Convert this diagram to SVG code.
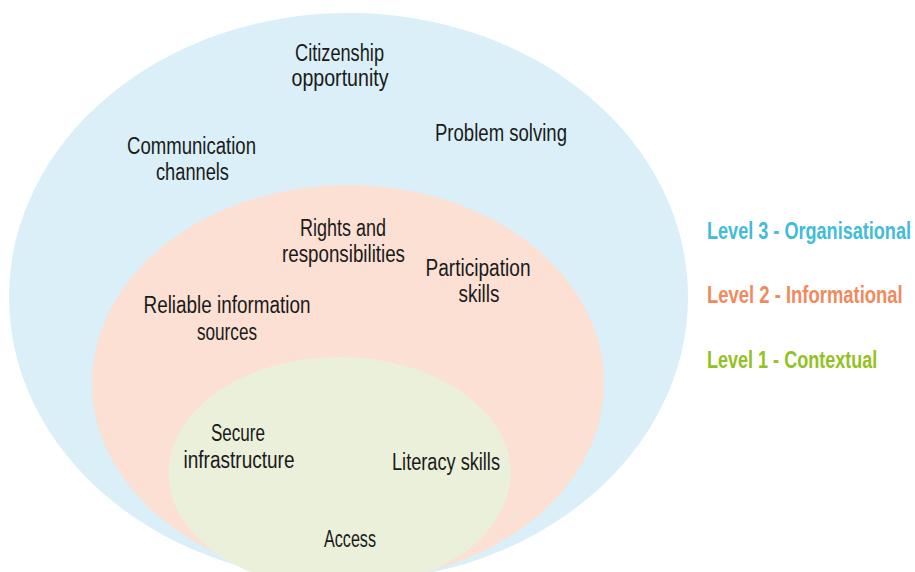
<svg xmlns="http://www.w3.org/2000/svg" width="915" height="572" viewBox="0 0 915 572">
<style>
.lbl{font-family:"Liberation Sans",Arial,sans-serif;font-size:23px;fill:#1a1a1a;text-anchor:middle}
.leg{font-family:"Liberation Sans",Arial,sans-serif;font-size:23px;font-weight:bold}
</style>
<rect width="915" height="572" fill="#ffffff"/>
<g id="level3">
<ellipse cx="348.5" cy="297" rx="339.5" ry="284" fill="#daeff7"/>
</g>
<g id="level2">
<ellipse cx="348" cy="383" rx="256" ry="198" fill="#fce0d3"/>
</g>
<g id="level1">
<ellipse cx="339.5" cy="473" rx="171" ry="116" fill="#ebf0db"/>
</g>
<g id="connectors"/>
<g id="labels-level3">
<g id="citizenship"><text class="lbl" x="339.5" y="61" textLength="89" lengthAdjust="spacingAndGlyphs">Citizenship</text><text class="lbl" x="340" y="86" textLength="97" lengthAdjust="spacingAndGlyphs">opportunity</text></g>
<g id="communication"><text class="lbl" x="191.5" y="154" textLength="129" lengthAdjust="spacingAndGlyphs">Communication</text><text class="lbl" x="192.5" y="180" textLength="73" lengthAdjust="spacingAndGlyphs">channels</text></g>
<g id="problem"><text class="lbl" x="501" y="141" textLength="132" lengthAdjust="spacingAndGlyphs">Problem solving</text></g>
</g>
<g id="labels-level2">
<g id="rights"><text class="lbl" x="343" y="236" textLength="86" lengthAdjust="spacingAndGlyphs">Rights and</text><text class="lbl" x="343.5" y="262" textLength="123" lengthAdjust="spacingAndGlyphs">responsibilities</text></g>
<g id="participation"><text class="lbl" x="478" y="276" textLength="105" lengthAdjust="spacingAndGlyphs">Participation</text><text class="lbl" x="479" y="302" textLength="41" lengthAdjust="spacingAndGlyphs">skills</text></g>
<g id="reliable"><text class="lbl" x="227" y="313" textLength="167" lengthAdjust="spacingAndGlyphs">Reliable information</text><text class="lbl" x="227" y="340" textLength="60" lengthAdjust="spacingAndGlyphs">sources</text></g>
</g>
<g id="labels-level1">
<g id="secure"><text class="lbl" x="238" y="441" textLength="54" lengthAdjust="spacingAndGlyphs">Secure</text><text class="lbl" x="239" y="468" textLength="111" lengthAdjust="spacingAndGlyphs">infrastructure</text></g>
<g id="literacy"><text class="lbl" x="446" y="470" textLength="108" lengthAdjust="spacingAndGlyphs">Literacy skills</text></g>
<g id="access"><text class="lbl" x="350" y="547" textLength="52" lengthAdjust="spacingAndGlyphs">Access</text></g>
</g>
<g id="legend">
<text class="leg" transform="translate(707,239) scale(0.75,1)" x="0" y="0" fill="#42bcd8" textLength="272" lengthAdjust="spacingAndGlyphs">Level 3 - Organisational</text>
<text class="leg" transform="translate(707,303) scale(0.75,1)" x="0" y="0" fill="#f08a5e" textLength="261" lengthAdjust="spacingAndGlyphs">Level 2 - Informational</text>
<text class="leg" transform="translate(707,368) scale(0.75,1)" x="0" y="0" fill="#93c122" textLength="227" lengthAdjust="spacingAndGlyphs">Level 1 - Contextual</text>
</g>
</svg>
